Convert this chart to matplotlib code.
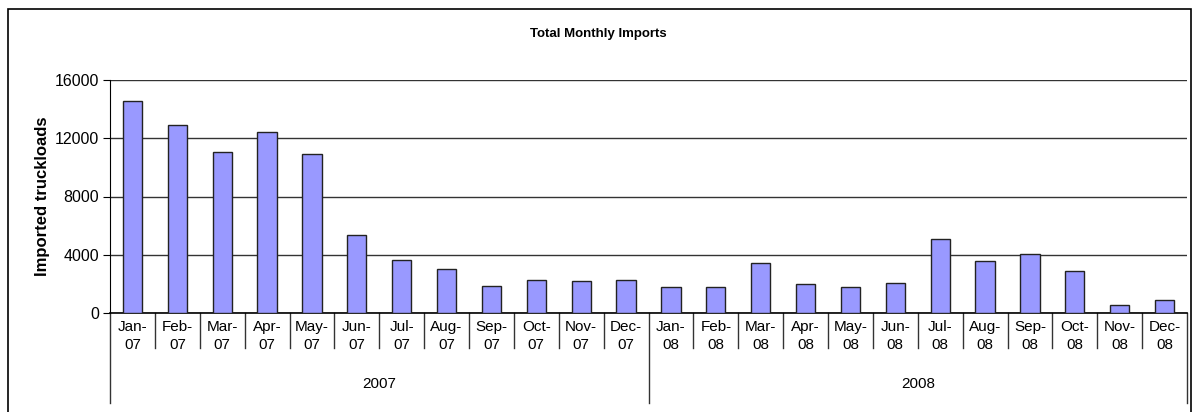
import matplotlib.pyplot as plt
import matplotlib.transforms as mtransforms
from matplotlib.patches import Rectangle

months = ["Jan-\n07", "Feb-\n07", "Mar-\n07", "Apr-\n07", "May-\n07", "Jun-\n07",
          "Jul-\n07", "Aug-\n07", "Sep-\n07", "Oct-\n07", "Nov-\n07", "Dec-\n07",
          "Jan-\n08", "Feb-\n08", "Mar-\n08", "Apr-\n08", "May-\n08", "Jun-\n08",
          "Jul-\n08", "Aug-\n08", "Sep-\n08", "Oct-\n08", "Nov-\n08", "Dec-\n08"]
imports = [14550, 12900, 11050, 12450, 10950, 5350,
           3660, 2990, 1860, 2250, 2180, 2260,
           1790, 1790, 3420, 1970, 1790, 2040,
           5080, 3600, 4080, 2870, 580, 900]
years = ["2007", "2008"]

plt.rcParams['font.family'] = ['Liberation Sans', 'DejaVu Sans']

fig = plt.figure(figsize=(11.97, 4.12), dpi=100)
ax = fig.add_axes([110/1197, 1 - 313/412, (1187 - 110)/1197, 233/412])

x = list(range(len(months)))
ax.bar(x, imports, width=0.43, color='#9999ff', edgecolor='#222222', linewidth=1.0, zorder=3)

ax.set_xlim(-0.5, len(months) - 0.5)
ax.set_ylim(0, 16000)
ax.set_yticks([0, 4000, 8000, 12000, 16000])
ax.yaxis.grid(True, color='#333333', linewidth=1.0, zorder=0)
ax.tick_params(axis='y', labelsize=11.5, length=5, color='black', pad=3)
ax.set_xticks(x)
ax.set_xticklabels(months, fontsize=11, linespacing=1.35)
ax.tick_params(axis='x', length=0, pad=5)
for s in ['top', 'right']:
    ax.spines[s].set_visible(False)
ax.spines['left'].set_color('black')
ax.spines['bottom'].set_color('black')
ax.spines['bottom'].set_linewidth(1.2)

ax.set_ylabel("Imported truckloads", fontsize=12, fontweight='bold', labelpad=3)

# category separators below the axis
trans = mtransforms.blended_transform_factory(ax.transData, ax.transAxes)
for i in range(len(months) + 1):
    if i % 12 == 0:
        ln = -0.385
    else:
        ln = -0.15
    ax.plot([i - 0.5, i - 0.5], [0, ln], color='#333333', linewidth=1.0,
            transform=trans, clip_on=False)
for j, yr in enumerate(years):
    ax.text(j * 12 + 5.5, -0.305, yr, transform=trans, ha='center', va='center',
            fontsize=11)

fig.text(0.5, 1 - 34/412, "Total Monthly Imports", ha='center', va='center',
         fontsize=9.5, fontweight='bold')

fig.patches.append(Rectangle((8/1197, -0.1), (1191 - 8)/1197, 1.1 - 9/412,
                             transform=fig.transFigure, fill=False,
                             edgecolor='black', linewidth=1.2))

fig.savefig("out.png", dpi=100)
